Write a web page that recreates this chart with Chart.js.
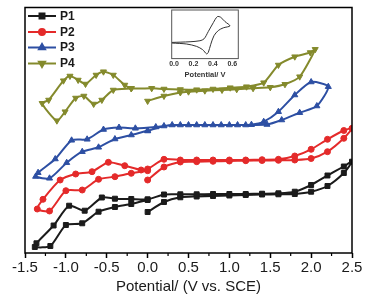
<!DOCTYPE html>
<html>
<head>
<meta charset="utf-8">
<script src="https://cdn.jsdelivr.net/npm/chart.js@4.4.0/dist/chart.umd.min.js"></script>
<style>
  html, body { margin: 0; padding: 0; background: #fff; }
  #wrap { position: relative; width: 367px; height: 305px; }
  #main { position: absolute; left: 0; top: 0; }
  #inset { position: absolute; left: 150px; top: 0; }
</style>
</head>
<body>
<div id="wrap">
  <canvas id="main" width="367" height="305"></canvas>
  <canvas id="inset" width="105" height="85"></canvas>
</div>
<script>
// --- DATA: potential (V vs. SCE) and current (arbitrary units, curves offset) ---
const xTicks = [-1.5, -1.0, -0.5, 0.0, 0.5, 1.0, 1.5, 2.0, 2.5];
const insetTicks = [0.0, 0.2, 0.4, 0.6];

const p1Potential = [0.0, 0.2, 0.4, 0.6, 0.8, 1.0, 1.2, 1.4, 1.6, 1.8, 2.0, 2.2, 2.4, 2.5,
  2.4, 2.2, 2.0, 1.8, 1.6, 1.4, 1.2, 1.0, 0.8, 0.6, 0.4, 0.2, 0.0, -0.2, -0.4, -0.56, -0.77, -0.96,
  -1.15, -1.36, -1.38, -1.19, -1.0, -0.8, -0.6, -0.4, -0.2, 0.0];
const p1Current = [41, 51, 55.7, 56.5, 57, 57.5, 58, 58.5, 58.7, 59, 61.3, 67, 80, 91.3,
  86.5, 77.5, 68, 61.3, 59.7, 59.3, 59, 59, 59, 58.7, 58.7, 58.5, 53.7, 54, 54.3, 55.5, 42.3, 47.3,
  27.5, 9.7, 6, 7, 28, 29.7, 41.3, 46, 49, 53];

const p2Potential = [0.0, 0.2, 0.4, 0.6, 0.8, 1.0, 1.2, 1.4, 1.6, 1.8, 2.0, 2.2, 2.4, 2.5,
  2.4, 2.2, 2.0, 1.8, 1.6, 1.4, 1.2, 1.0, 0.8, 0.6, 0.4, 0.2, 0.0, -0.08, -0.28, -0.48, -0.68, -0.88,
  -1.07, -1.28, -1.35, -1.2, -1.0, -0.8, -0.6, -0.4, -0.2, 0.0];
const p2Current = [73, 86, 91, 91.3, 91.7, 92, 92.3, 92.5, 92.7, 93, 94.5, 101.3, 114.7, 124.7,
  122.5, 113.7, 103.7, 97, 93.7, 93.3, 93, 93, 93, 93, 93, 93.7, 84, 83, 87.3, 90.7, 81.3, 79,
  73, 53.7, 44, 42, 62.3, 63, 73.7, 76.3, 79.7, 82.3];

const p3Potential = [0.0, 0.2, 0.4, 0.6, 0.8, 1.0, 1.2, 1.46, 1.64, 1.86, 2.07, 2.21,
  2.0, 1.8, 1.6, 1.42, 1.27, 1.1, 0.9, 0.7, 0.5, 0.3, 0.1, -0.15, -0.35, -0.54, -0.74, -0.93,
  -1.13, -1.34, -1.37, -1.2, -0.99, -0.8, -0.6, -0.4, -0.2, 0.0];
const p3Current = [122, 127, 128, 128, 128, 128, 128, 128.5, 133, 140.3, 147, 166.3,
  171, 158, 141.3, 131.3, 128.3, 128, 128, 128, 128, 128, 126, 124.7, 125.5, 123.5, 113.7, 112.7,
  94, 80.3, 76.5, 74.7, 90.3, 101.3, 105.7, 114, 118, 122.5];

const p4Potential = [0.0, 0.2, 0.4, 0.5, 0.7, 0.91, 1.09, 1.29, 1.5, 1.68, 1.86, 2.05,
  1.99, 1.8, 1.6, 1.42, 1.21, 1.01, 0.8, 0.6, 0.4, 0.2, 0.05, -0.2, -0.28, -0.42, -0.54, -0.63,
  -0.76, -0.85, -0.95, -1.03, -1.21, -1.29, -1.11, -1.01, -0.88, -0.78, -0.66, -0.56, -0.42, -0.2];
const p4Current = [152, 157, 160.5, 161.3, 162.3, 163, 163.7, 164.7, 165.7, 168.7, 176.3, 203.7,
  200.5, 196.3, 188, 170.3, 166.3, 165.3, 164, 163.3, 163.5, 164, 164.7, 164.7, 168, 178, 181.3, 178,
  169, 173, 177, 172.3, 153, 149.7, 132.3, 141.3, 155, 157, 149, 153, 163, 164.5];

// inset: a reference redox couple
const insetPotential = [-0.024, 0.165, 0.267, 0.31, 0.353, 0.405, 0.446, 0.48, 0.525, 0.576,
  0.507, 0.456, 0.411, 0.377, 0.353, 0.336, 0.295, 0.233, 0.13, -0.024];
const insetCurrent = [16.3, 17, 18, 20, 27.3, 36.3, 42.3, 41.7, 37.3, 33,
  31, 28.3, 23, 14, 6.3, 4.7, 9, 12.3, 14.7, 15.7];

// --- STYLE ---
const FONT = '"Liberation Sans", Arial, Helvetica, sans-serif';
const TEXT_COLOR = '#1a1a1a';

const series = [
  { label: 'P1', xs: p1Potential, ys: p1Current, color: '#1b1b1b', style: 'rect', rotation: 0, radius: 3.5 },
  { label: 'P2', xs: p2Potential, ys: p2Current, color: '#e42a2a', style: 'circle', rotation: 0, radius: 3 },
  { label: 'P3', xs: p3Potential, ys: p3Current, color: '#2d4fa3', style: 'triangle', rotation: 0, radius: 3.5 },
  { label: 'P4', xs: p4Potential, ys: p4Current, color: '#848a2c', style: 'triangle', rotation: 180, radius: 3.5 }
];

const toPoints = (xs, ys) => xs.map((x, i) => ({ x: x, y: ys[i] }));

// --- PLUGINS ---
const framePlugin = {
  id: 'frame',
  beforeDatasetsDraw(chart, args, opts) {
    // white plot area (matters for the inset, which sits over the main chart)
    if (!opts.fillArea) return;
    const { ctx, chartArea: a } = chart;
    ctx.save();
    ctx.fillStyle = '#fff';
    ctx.fillRect(a.left, a.top, a.right - a.left, a.bottom - a.top);
    ctx.restore();
  },
  afterDraw(chart, args, opts) {
    const { ctx, chartArea: a } = chart;
    ctx.save();
    ctx.strokeStyle = opts.color || '#000';
    ctx.lineWidth = opts.width || 1.5;
    ctx.strokeRect(a.left, a.top, a.right - a.left, a.bottom - a.top);
    // minor ticks on the bottom axis
    if (opts.minorStep) {
      const xs = chart.scales.x;
      ctx.lineWidth = opts.tickWidth || 1.2;
      ctx.beginPath();
      for (let v = xs.min + opts.minorStep; v < xs.max; v += opts.minorStep * 2) {
        const px = xs.getPixelForValue(v);
        ctx.moveTo(px, a.bottom);
        ctx.lineTo(px, a.bottom + opts.minorLength);
      }
      ctx.stroke();
    }
    ctx.restore();
  }
};

const drawMarker = (ctx, s, x, y) => {
  Chart.helpers.drawPoint(ctx, {
    pointStyle: s.style, rotation: s.rotation, radius: s.radius, borderWidth: 1
  }, x, y);
};

const legendPlugin = {
  id: 'cornerLegend',
  afterDraw(chart) {
    const ctx = chart.ctx;
    const rows = [16, 32, 47.5, 63.5];
    ctx.save();
    series.forEach((s, i) => {
      const y = rows[i];
      ctx.strokeStyle = s.color;
      ctx.fillStyle = s.color;
      ctx.lineWidth = 2;
      ctx.beginPath();
      ctx.moveTo(28, y);
      ctx.lineTo(56, y);
      ctx.stroke();
      drawMarker(ctx, s, 42, y);
      ctx.fillStyle = TEXT_COLOR;
      ctx.font = 'bold 12px ' + FONT;
      ctx.textBaseline = 'middle';
      ctx.fillText(s.label, 60, y + 0.5);
    });
    ctx.restore();
  }
};

// --- MAIN CHART ---
new Chart(document.getElementById('main').getContext('2d'), {
  type: 'scatter',
  data: {
    datasets: series.map(s => ({
      label: s.label,
      data: toPoints(s.xs, s.ys),
      showLine: true,
      tension: 0.22,
      borderColor: s.color,
      backgroundColor: s.color,
      borderWidth: 2,
      pointStyle: s.style,
      pointRotation: s.rotation,
      pointRadius: s.radius,
      pointBorderWidth: 1,
      pointBackgroundColor: s.color,
      pointBorderColor: s.color
    }))
  },
  options: {
    responsive: false,
    animation: false,
    layout: { padding: { left: 25, right: 15, top: 7.5, bottom: 9 } },
    plugins: {
      legend: { display: false },
      tooltip: { enabled: false },
      frame: { color: '#000', width: 1.5, minorStep: 0.25, minorLength: 3, tickWidth: 1.2 }
    },
    scales: {
      x: {
        type: 'linear',
        min: -1.5,
        max: 2.5,
        afterBuildTicks: scale => { scale.ticks = xTicks.map(v => ({ value: v })); },
        ticks: {
          font: { family: FONT, size: 15 },
          color: TEXT_COLOR,
          padding: 1,
          maxRotation: 0,
          autoSkip: false,
          callback: v => v.toFixed(1)
        },
        grid: { display: true, drawOnChartArea: false, drawTicks: true, tickLength: 5, tickColor: '#000', tickWidth: 1.5 },
        border: { display: false },
        title: {
          display: true,
          text: 'Potential/ (V vs. SCE)',
          font: { family: FONT, size: 15 },
          color: TEXT_COLOR,
          padding: { top: 0, bottom: 0 }
        }
      },
      y: { display: false, min: 0, max: 245.5 }
    }
  },
  plugins: [framePlugin, legendPlugin]
});

// --- INSET CHART ---
new Chart(document.getElementById('inset').getContext('2d'), {
  type: 'scatter',
  data: {
    datasets: [{
      data: toPoints(insetPotential, insetCurrent),
      showLine: true,
      tension: 0.3,
      borderColor: '#333',
      borderWidth: 1,
      pointRadius: 0
    }]
  },
  options: {
    responsive: false,
    animation: false,
    layout: { padding: { left: 21.7, right: 16.7, top: 10, bottom: 6 } },
    plugins: {
      legend: { display: false },
      tooltip: { enabled: false },
      frame: { color: '#555', width: 1, fillArea: true }
    },
    scales: {
      x: {
        type: 'linear',
        min: -0.024,
        max: 0.662,
        afterBuildTicks: scale => { scale.ticks = insetTicks.map(v => ({ value: v })); },
        ticks: {
          font: { family: FONT, size: 7, weight: 'bold' },
          color: '#333',
          padding: 1,
          maxRotation: 0,
          autoSkip: false,
          callback: v => v.toFixed(1)
        },
        grid: { display: false, drawTicks: false },
        border: { display: false },
        title: {
          display: true,
          text: 'Potential/ V',
          font: { family: FONT, size: 7.5, weight: 'bold' },
          color: '#333',
          padding: { top: 1, bottom: 0 }
        }
      },
      y: { display: false, min: 0, max: 49 }
    }
  },
  plugins: [framePlugin]
});
</script>
</body>
</html>
